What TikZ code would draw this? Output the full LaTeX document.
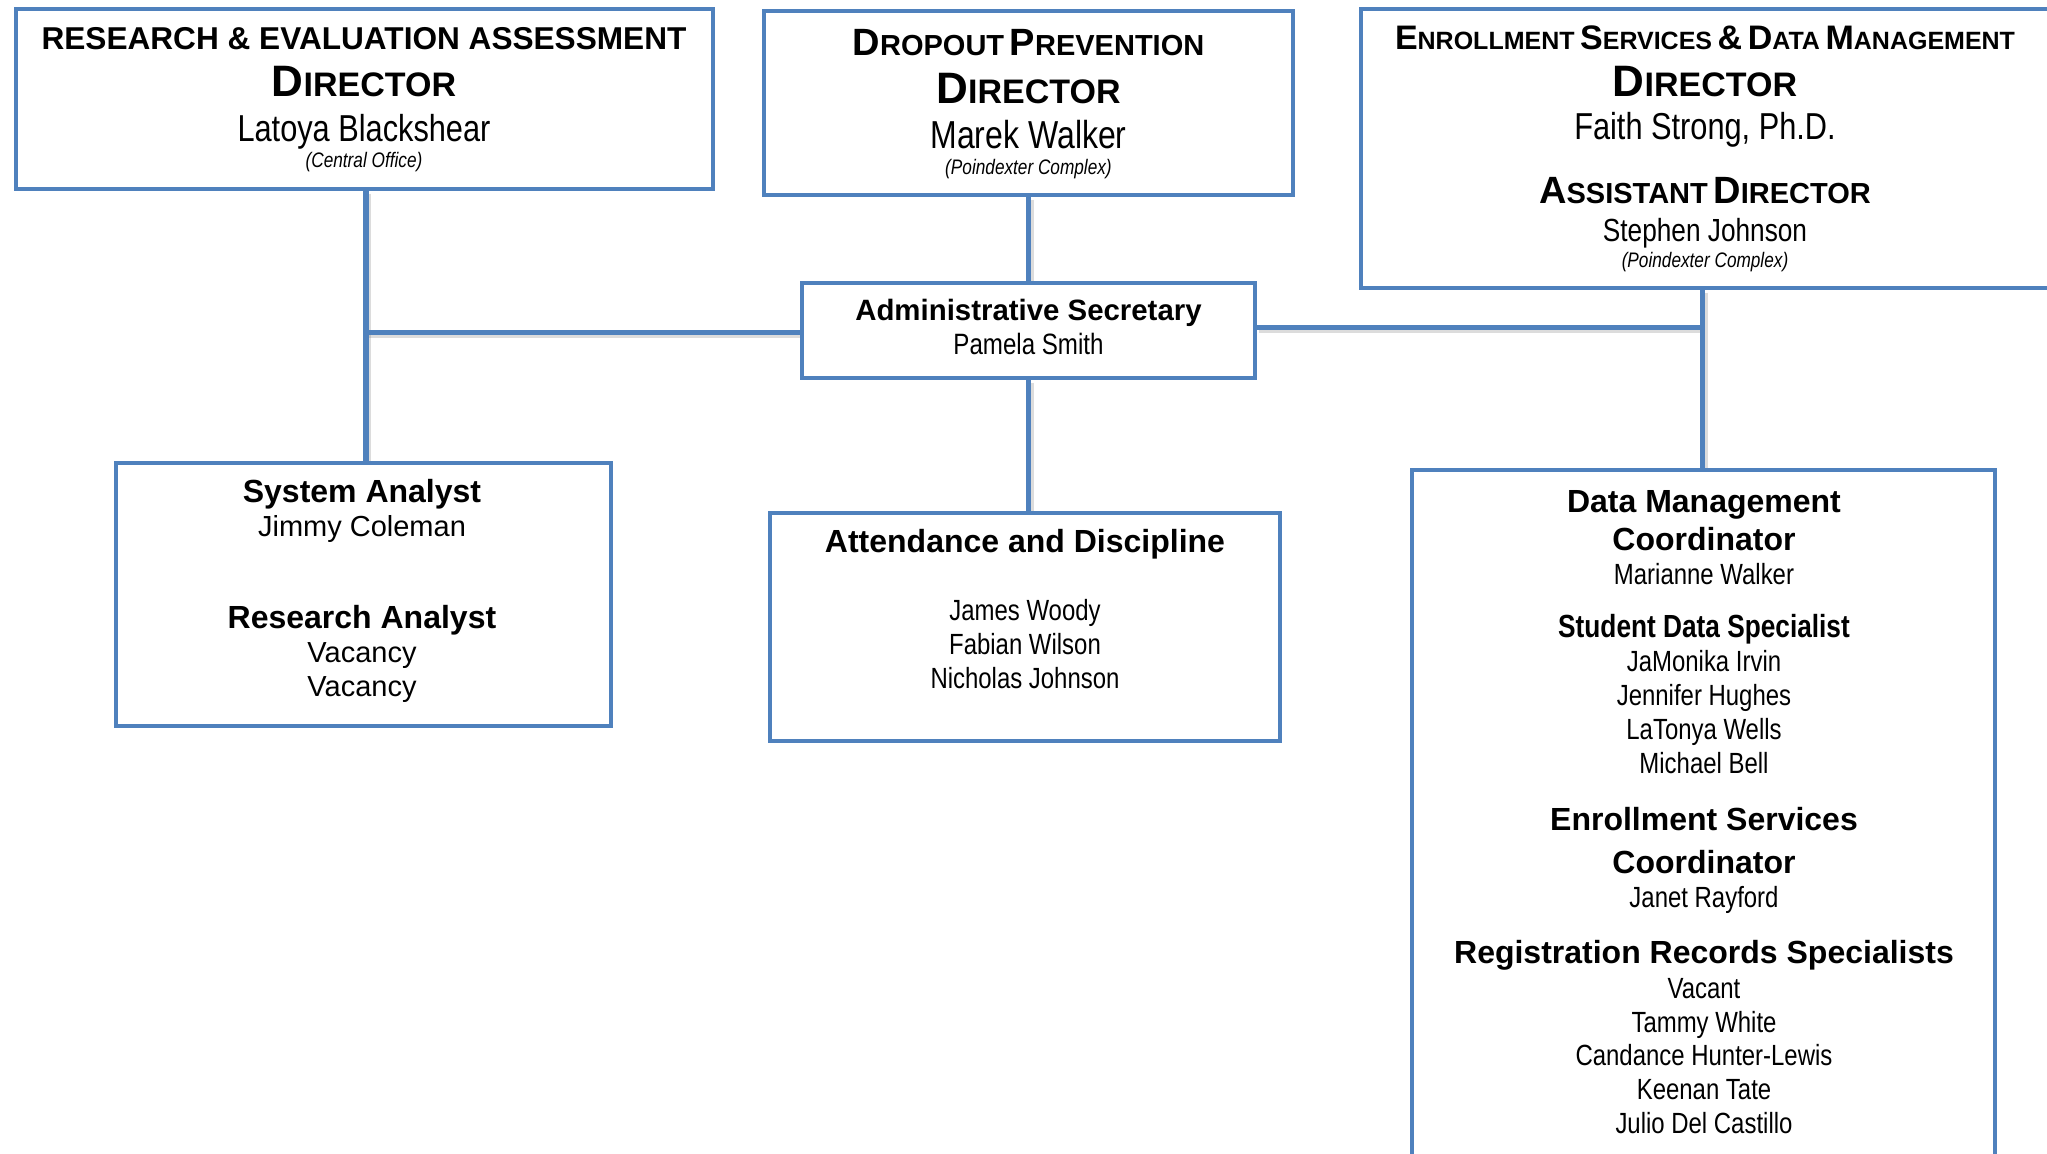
\documentclass[tikz,border=0pt]{standalone}
\usepackage{fontspec}
\setmainfont{Liberation Sans}
\newfontfamily\narrowf{Liberation Sans}[FakeStretch=0.82]
\definecolor{boxblue}{RGB}{79,129,189}
\newcommand\fs[1]{\fontsize{#1}{#1}\selectfont}
\newcommand\capsc[4]{{\fs{#1}#3}{\fs{#2}#4}}
\pgfdeclarelayer{back}
\pgfdeclarelayer{bg}
\pgfsetlayers{back,bg,main}
\tikzset{
  box/.style={draw=boxblue, line width=2pt, fill=white, rectangle, inner sep=0pt},
  conn/.style={draw=boxblue, line width=2.6pt},
  connsh/.style={draw=black!45, line width=3pt, opacity=0.3, transform canvas={shift={(1.1pt,-1.3pt)}}},
  ln/.style={anchor=base, inner sep=0pt},
  hd/.style={ln, font=\bfseries\fs{16pt}},
  nm/.style={ln, font=\narrowf\fs{14.6pt}},
  loc/.style={ln, font=\narrowf\itshape\fs{10.5pt}},
  big/.style={ln, font=\narrowf\fs{18.75pt}},
  tit/.style={ln, font=\bfseries},
}
\begin{document}
\begin{tikzpicture}[x=0.5pt, y=-0.5pt]
\useasboundingbox (0,0) rectangle (2047,1154);
\begin{pgfonlayer}{back}
\fill[white] (0,0) rectangle (2047,1154);
\end{pgfonlayer}

% boxes
\node[box, minimum width=348.5pt, minimum height=90pt]  (A) at (364,99) {};
\node[box, minimum width=264.5pt, minimum height=92pt]  (B) at (1028.5,103) {};
\node[box, minimum width=344.5pt, minimum height=139.5pt] (C) at (1705.5,148.5) {};
\node[box, minimum width=226.5pt, minimum height=47.5pt] (D) at (1028.5,330.5) {};
\node[box, minimum width=247.5pt, minimum height=131.5pt] (E) at (363,594.7) {};
\node[box, minimum width=255pt, minimum height=114pt] (F) at (1025,626.6) {};
\node[box, minimum width=291.5pt, minimum height=350pt] (G) at (1703.7,820) {};

% connectors (behind the boxes)
\coordinate (jA) at (366,332.5);
\coordinate (jC) at (1702.7,327.5);
\begin{pgfonlayer}{bg}
\foreach \s in {connsh,conn}{
  \draw[\s] (A.south -| jA) -- (E.north -| jA);
  \draw[\s] (jA) -- (jA -| D.west);
  \draw[\s] (B.south) -- (D.north);
  \draw[\s] (D.south) -- (D.south |- F.north);
  \draw[\s] (jC -| D.east) -- (jC);
  \draw[\s] (C.south -| jC) -- (G.north -| jC);
}
\end{pgfonlayer}

% Box A
\node[tit, font=\bfseries\fs{15.8pt}] (a1) at (364,50) {RESEARCH \& EVALUATION ASSESSMENT};
\node[tit] (a2) at (364,97) {\capsc{22pt}{17pt}{D}{IRECTOR}};
\node[big] (a3) at (364,142) {Latoya Blackshear};
\node[loc] (a4) at (364,168) {(Central Office)};

% Box B
\node[tit] (b1) at (1028.5,56) {\capsc{19pt}{14.5pt}{D}{ROPOUT} \capsc{19pt}{14.5pt}{P}{REVENTION}};
\node[tit] (b2) at (1028.5,104) {\capsc{22pt}{17pt}{D}{IRECTOR}};
\node[ln, font=\narrowf\fs{19.5pt}] (b3) at (1028.5,149) {Marek Walker};
\node[loc] (b4) at (1028.5,175) {(Poindexter Complex)};

% Box C
\node[tit] (c1) at (1705,50) {\capsc{17pt}{12.5pt}{E}{NROLLMENT} \capsc{17pt}{12.5pt}{S}{ERVICES} {\fs{17pt}\&} \capsc{17pt}{12.5pt}{D}{ATA} \capsc{17pt}{12.5pt}{M}{ANAGEMENT}};
\node[tit] (c2) at (1705,97) {\capsc{22pt}{17pt}{D}{IRECTOR}};
\node[big] (c3) at (1705,140) {Faith Strong, Ph.D.};
\node[tit] (c4) at (1705,204) {\capsc{19pt}{14.5pt}{A}{SSISTANT} \capsc{19pt}{14.5pt}{D}{IRECTOR}};
\node[ln, font=\narrowf\fs{16pt}] (c5) at (1705,242) {Stephen Johnson};
\node[loc] (c6) at (1705,268) {(Poindexter Complex)};

% Box D
\node[ln, font=\bfseries\fs{14.7pt}] (d1) at (1028.5,321) {Administrative Secretary};
\node[ln, font=\narrowf\fs{14.7pt}] (d2) at (1028.5,355) {Pamela Smith};

% Box E
\node[hd] (e1) at (362,503) {System Analyst};
\node[ln, font=\fs{14.5pt}] (e2) at (362,537) {Jimmy Coleman};
\node[hd] (e3) at (362,629) {Research Analyst};
\node[ln, font=\fs{14.5pt}] (e4) at (362,663) {Vacancy};
\node[ln, font=\fs{14.5pt}] (e5) at (362,697) {Vacancy};

% Box F
\node[hd] (f1) at (1025,553) {Attendance and Discipline};
\node[nm] (f2) at (1025,621) {James Woody};
\node[nm] (f3) at (1025,655) {Fabian Wilson};
\node[nm] (f4) at (1025,689) {Nicholas Johnson};

% Box G
\node[hd] (g1) at (1704,513) {Data Management};
\node[hd] (g2) at (1704,551) {Coordinator};
\node[nm] (g3) at (1704,585) {Marianne Walker};
\node[ln, font=\narrowf\bfseries\fs{16pt}] (g4) at (1704,638) {Student Data Specialist};
\node[nm] (g5) at (1704,672) {JaMonika Irvin};
\node[nm] (g6) at (1704,706) {Jennifer Hughes};
\node[nm] (g7) at (1704,740) {LaTonya Wells};
\node[nm] (g8) at (1704,774) {Michael Bell};
\node[hd] (g9) at (1704,831) {Enrollment Services};
\node[hd] (g10) at (1704,873) {Coordinator};
\node[nm] (g11) at (1704,907) {Janet Rayford};
\node[hd] (g12) at (1704,964) {Registration Records Specialists};
\node[nm] (g13) at (1704,998) {Vacant};
\node[nm] (g14) at (1704,1032) {Tammy White};
\node[nm] (g15) at (1704,1065) {Candance Hunter-Lewis};
\node[nm] (g16) at (1704,1099) {Keenan Tate};
\node[nm] (g17) at (1704,1133) {Julio Del Castillo};
\end{tikzpicture}
\end{document}
